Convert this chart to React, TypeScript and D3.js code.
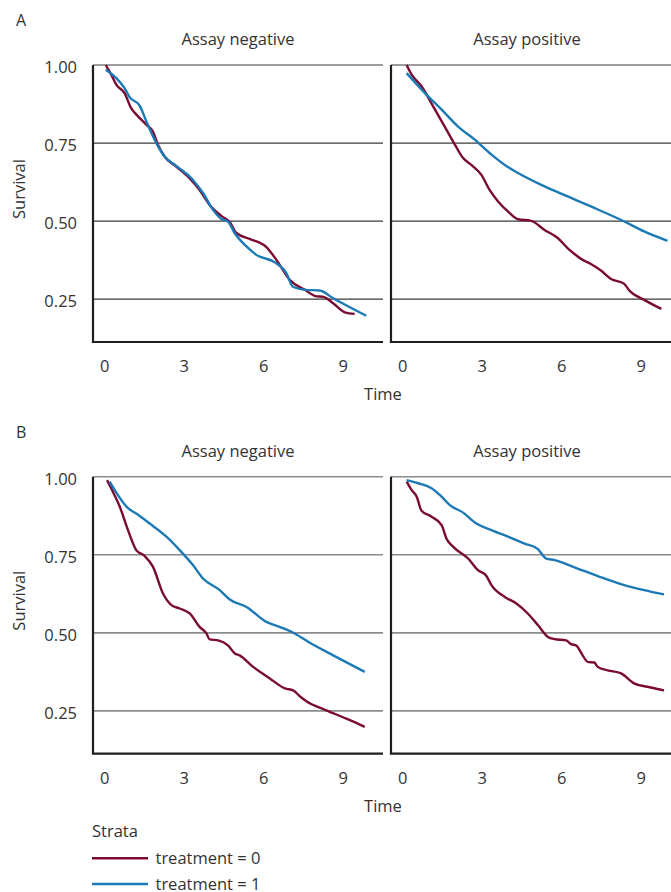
import * as d3 from "d3";

// time, survival pairs
const aNegTrt0: [number, number][] = [
  [0.04, 1.0], [0.25, 0.969], [0.44, 0.937], [0.75, 0.91], [1.0, 0.862], [1.2, 0.841],
  [1.57, 0.809], [1.82, 0.787], [2.01, 0.745], [2.26, 0.707], [2.7, 0.675], [3.2, 0.638],
  [3.58, 0.6], [3.96, 0.552], [4.4, 0.517], [4.72, 0.497], [4.97, 0.462], [5.47, 0.443],
  [6.1, 0.417], [6.48, 0.376], [6.98, 0.312], [7.55, 0.28], [7.92, 0.261], [8.3, 0.256],
  [8.62, 0.237], [9.06, 0.208], [9.43, 0.203],
];
const aNegTrt1: [number, number][] = [
  [0.04, 0.985], [0.44, 0.958], [0.75, 0.926], [0.94, 0.897], [1.32, 0.87], [1.57, 0.82],
  [1.95, 0.75], [2.26, 0.707], [2.7, 0.677], [3.33, 0.632], [3.71, 0.59], [4.09, 0.536],
  [4.4, 0.507], [4.65, 0.499], [4.9, 0.462], [5.35, 0.419], [5.72, 0.392], [6.42, 0.368],
  [6.86, 0.333], [7.1, 0.29], [7.6, 0.28], [8.11, 0.278], [8.62, 0.253], [9.87, 0.197],
];
const aPosTrt0: [number, number][] = [
  [0.15, 1.0], [0.34, 0.969], [0.71, 0.932], [1.22, 0.857], [1.65, 0.793], [1.97, 0.745],
  [2.28, 0.702], [2.59, 0.68], [2.97, 0.648], [3.28, 0.6], [3.6, 0.563], [3.97, 0.531],
  [4.35, 0.506], [4.85, 0.501], [5.35, 0.472], [5.85, 0.446], [6.23, 0.413], [6.48, 0.395],
  [6.79, 0.376], [7.1, 0.363], [7.48, 0.342], [7.86, 0.315], [8.36, 0.299], [8.55, 0.278],
  [9.11, 0.248], [9.76, 0.219],
];
const aPosTrt1: [number, number][] = [
  [0.15, 0.974], [0.84, 0.91], [1.47, 0.857], [2.09, 0.803], [2.72, 0.761], [3.35, 0.713],
  [3.97, 0.673], [4.35, 0.654], [5.23, 0.616], [6.23, 0.579], [7.1, 0.547], [8.36, 0.499],
  [9.11, 0.467], [9.99, 0.437],
];
const bNegTrt0: [number, number][] = [
  [0.09, 0.989], [0.31, 0.952], [0.57, 0.904], [0.88, 0.829], [1.19, 0.765], [1.51, 0.746],
  [1.82, 0.712], [2.2, 0.626], [2.52, 0.589], [2.83, 0.578], [3.21, 0.562], [3.58, 0.519],
  [3.84, 0.498], [3.96, 0.479], [4.28, 0.476], [4.65, 0.46], [4.91, 0.434], [5.09, 0.428],
  [5.6, 0.391], [6.23, 0.354], [6.8, 0.322], [7.11, 0.316], [7.36, 0.297], [7.61, 0.281],
  [8.36, 0.252], [9.12, 0.225], [9.81, 0.199],
];
const bNegTrt1: [number, number][] = [
  [0.19, 0.984], [0.5, 0.941], [0.88, 0.899], [1.19, 0.882], [1.7, 0.85], [2.33, 0.808],
  [2.83, 0.765], [3.33, 0.717], [3.71, 0.674], [4.34, 0.637], [4.72, 0.607], [5.35, 0.583],
  [6.1, 0.535], [6.6, 0.519], [7.17, 0.498], [7.74, 0.468], [8.62, 0.428], [9.81, 0.375],
];
const bPosTrt0: [number, number][] = [
  [0.15, 0.984], [0.34, 0.957], [0.53, 0.936], [0.71, 0.891], [1.09, 0.872], [1.47, 0.845],
  [1.65, 0.802], [1.9, 0.776], [2.47, 0.738], [2.84, 0.701], [3.16, 0.682], [3.35, 0.653],
  [3.85, 0.615], [4.29, 0.594], [4.72, 0.562], [5.1, 0.525], [5.48, 0.487], [5.73, 0.48],
  [6.17, 0.476], [6.35, 0.464], [6.54, 0.46], [6.79, 0.428], [6.98, 0.407], [7.23, 0.405],
  [7.36, 0.391], [7.73, 0.38], [8.24, 0.37], [8.73, 0.338], [9.36, 0.325], [9.86, 0.316],
];
const bPosTrt1: [number, number][] = [
  [0.15, 0.989], [0.59, 0.979], [1.09, 0.963], [1.47, 0.936], [1.78, 0.909], [2.28, 0.885],
  [2.78, 0.85], [3.35, 0.829], [3.97, 0.808], [4.6, 0.786], [5.1, 0.768], [5.42, 0.738],
  [5.73, 0.733], [6.6, 0.706], [7.36, 0.682], [8.36, 0.653], [9.11, 0.637], [9.86, 0.623],
];

const timeTicks = [0, 3, 6, 9];
const survivalTicks = [0.25, 0.5, 0.75, 1.0];
const survivalLabels = ["0.25", "0.50", "0.75", "1.00"];
const panelTitles = ["Assay negative", "Assay positive"];
const strata = ["treatment = 0", "treatment = 1"];

const colors = ["#7a0b35", "#1b7ab5"];
const font = "'Open Sans', 'DejaVu Sans', sans-serif";
const textColor = "#333";

const W = 671;
const H = 892;
const panelW = 290;
const panelH = 277;

type Row = {
  tag: string;
  top: number;
  grid: string;
  gridW: number;
  series: [number, number][][][];
};

const rows: Row[] = [
  { tag: "A", top: 65, grid: "#3a3a3a", gridW: 1.2, series: [[aNegTrt0, aNegTrt1], [aPosTrt0, aPosTrt1]] },
  { tag: "B", top: 476.7, grid: "#8c8c8c", gridW: 1.6, series: [[bNegTrt0, bNegTrt1], [bPosTrt0, bPosTrt1]] },
];
const panelLefts = [93, 391];

function Panel({ left, top, data, grid, gridW, showY }: any) {
  const x = d3.scaleLinear().domain([-0.44, 10.5]).range([left, left + panelW]);
  const y = d3.scaleLinear().domain([0.113, 1]).range([top + panelH, top]);
  const line = d3
    .line<[number, number]>()
    .x((d) => x(d[0]))
    .y((d) => y(d[1]))
    .curve(d3.curveMonotoneX);
  return (
    <g>
      {survivalTicks.map((v) => (
        <line key={v} x1={left} x2={left + panelW} y1={y(v)} y2={y(v)} stroke={grid} strokeWidth={gridW} />
      ))}
      {data.map((s: [number, number][], i: number) => (
        <path key={i} d={line(s) || ""} fill="none" stroke={colors[i]} strokeWidth={2.4} strokeLinejoin="round" />
      ))}
      <line x1={left} x2={left} y1={top} y2={top + panelH} stroke="#1e1e1e" strokeWidth={2.2} />
      <line x1={left - 1.1} x2={left + panelW} y1={top + panelH} y2={top + panelH} stroke="#1e1e1e" strokeWidth={2.2} />
      {timeTicks.map((t) => (
        <text key={t} x={x(t)} y={top + panelH + 30} textAnchor="middle" fontSize={16.5} fill={textColor}>
          {t}
        </text>
      ))}
      {showY &&
        survivalTicks.map((v, i) => (
          <text key={v} x={77} y={y(v) + 8} textAnchor="end" fontSize={16.5} fill={textColor}>
            {survivalLabels[i]}
          </text>
        ))}
    </g>
  );
}

export default function App() {
  return (
    <svg
      width={W}
      height={H}
      style={{ position: "absolute", left: 0, top: 0, background: "#fff" }}
      fontFamily={font}
    >
      <rect width={W} height={H} fill="#fff" />
      {rows.map((r) => (
        <g key={r.tag}>
          <text x={16} y={r.top - 39} fontSize={16} fill={textColor}>
            {r.tag}
          </text>
          {panelTitles.map((t, i) => (
            <text key={t} x={i === 0 ? 238 : 527} y={r.top - 20} textAnchor="middle" fontSize={16.5} fill={textColor}>
              {t}
            </text>
          ))}
          {panelLefts.map((l, i) => (
            <Panel key={l} left={l} top={r.top} data={r.series[i]} grid={r.grid} gridW={r.gridW} showY={i === 0} />
          ))}
          <text
            transform={`translate(25,${r.top + 124}) rotate(-90)`}
            textAnchor="middle"
            fontSize={16.5}
            fill={textColor}
          >
            Survival
          </text>
          <text x={383} y={r.top + panelH + 58} textAnchor="middle" fontSize={16.5} fill={textColor}>
            Time
          </text>
        </g>
      ))}
      <text x={92} y={837} fontSize={16.5} fill={textColor}>
        Strata
      </text>
      {strata.map((s, i) => (
        <g key={s}>
          <line x1={92} x2={148} y1={858.3 + i * 25.7} y2={858.3 + i * 25.7} stroke={colors[i]} strokeWidth={2.6} />
          <text x={155.5} y={864 + i * 25.7} fontSize={16.5} fill={textColor}>
            {s}
          </text>
        </g>
      ))}
    </svg>
  );
}
